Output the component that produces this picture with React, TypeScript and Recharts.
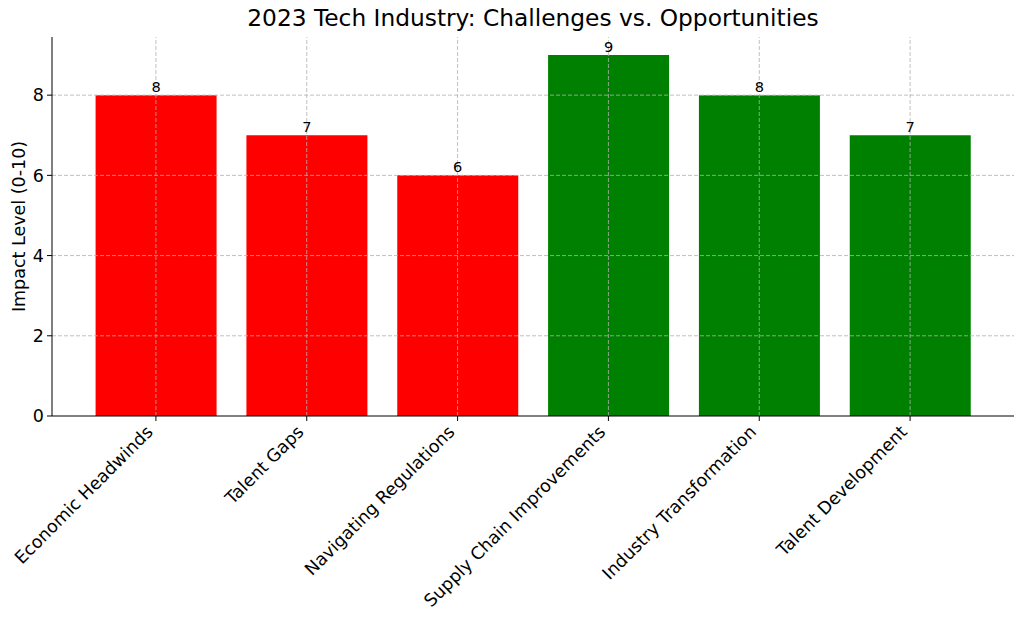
import React from "react";
import {
  BarChart,
  Bar,
  XAxis,
  YAxis,
  Cell,
  LabelList,
  ReferenceLine,
} from "recharts";

const categories = [
  "Economic Headwinds",
  "Talent Gaps",
  "Navigating Regulations",
  "Supply Chain Improvements",
  "Industry Transformation",
  "Talent Development",
];
const impact = [8, 7, 6, 9, 8, 7];
const kinds = ["challenge", "challenge", "challenge", "opportunity", "opportunity", "opportunity"];
const yTicks = [0, 2, 4, 6, 8];

const colorFor: Record<string, string> = {
  challenge: "#ff0000",
  opportunity: "#008000",
};

const data = categories.map((name, i) => ({ name, value: impact[i], kind: kinds[i] }));

const FONT = "'DejaVu Sans', sans-serif";

// rotated category labels, right end anchored just below the tick
const RotatedTick = (props: any) => {
  const { x, y, payload } = props;
  const ax = x - 2;
  const ay = y + 10;
  return (
    <text
      x={ax}
      y={ay}
      textAnchor="end"
      transform={`rotate(-45, ${ax}, ${ay})`}
      fontSize={17.5}
      fontFamily={FONT}
      fill="#000"
    >
      {payload.value}
    </text>
  );
};

const App: React.FC = () => {
  return (
    <div style={{ position: "absolute", left: 0, top: 0, width: 1024, height: 620, background: "#fff" }}>
      <div
        style={{
          position: "absolute",
          left: 52,
          width: 962,
          top: 4,
          textAlign: "center",
          fontFamily: FONT,
          fontSize: 23.3,
          color: "#000",
        }}
      >
        2023 Tech Industry: Challenges vs. Opportunities
      </div>
      <BarChart
        width={1024}
        height={620}
        data={data}
        margin={{ top: 37, right: 10, bottom: 0, left: 0 }}
        barCategoryGap="10%"
      >
        <XAxis
          dataKey="name"
          height={204}
          padding={{ left: 28.5, right: 28.5 }}
          interval={0}
          stroke="#000"
          tickSize={5}
          tick={<RotatedTick />}
        />
        <YAxis
          width={52}
          domain={[0, 9.45]}
          ticks={yTicks}
          stroke="#000"
          tickSize={5}
          tickMargin={3}
          tick={{ fontSize: 17.5, fontFamily: FONT, fill: "#000" }}
          label={{
            value: "Impact Level (0-10)",
            angle: -90,
            position: "center",
            dx: -7,
            fontSize: 17.5,
            fontFamily: FONT,
            fill: "#000",
          }}
        />
        <Bar dataKey="value" isAnimationActive={false}>
          {data.map((d) => (
            <Cell key={d.name} fill={colorFor[d.kind]} />
          ))}
          <LabelList
            dataKey="value"
            position="top"
            offset={3}
            style={{ fontSize: 14.6, fontFamily: FONT, fill: "#000" }}
          />
        </Bar>
        {yTicks.slice(1).map((t) => (
          <ReferenceLine key={`h${t}`} y={t} stroke="#b0b0b0" strokeDasharray="4 2" strokeWidth={0.8} />
        ))}
        {categories.map((c) => (
          <ReferenceLine key={`v${c}`} x={c} stroke="#b0b0b0" strokeDasharray="4 2" strokeWidth={0.8} />
        ))}
      </BarChart>
    </div>
  );
};

export default App;
